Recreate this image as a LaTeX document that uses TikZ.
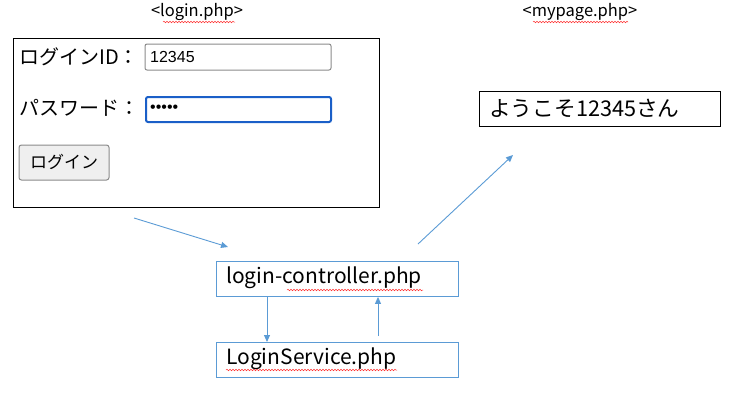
\documentclass[tikz,border=0pt]{standalone}
\usepackage{fontspec}
\setmainfont{Noto Sans CJK JP}
\newfontfamily\formfont{Liberation Sans}
\usetikzlibrary{arrows.meta,decorations.pathmorphing}
\definecolor{flowblue}{HTML}{5B9BD5}
\definecolor{focusblue}{HTML}{1A5FC8}
\definecolor{inputgray}{HTML}{8A8A8A}
\definecolor{btnfill}{HTML}{EFEFEF}
\tikzset{
  pagebox/.style={draw=black, line width=1pt},
  filebox/.style={draw=flowblue, line width=0.9pt},
  flow/.style={draw=flowblue, line width=0.9pt, -{Triangle[length=7pt,width=6pt]}},
  caption/.style={font=\fontsize{16.5}{18}\selectfont\addfontfeatures{Weight=Light}, inner sep=0pt},
  bigtext/.style={font=\fontsize{21}{23}\selectfont, inner sep=0pt, anchor=west},
  formlabel/.style={font=\fontsize{20}{22}\selectfont, inner sep=0pt, anchor=west},
  inputbox/.style={draw=inputgray, rounded corners=2pt, line width=1pt},
  squiggle/.style={draw=red!80, line width=0.5pt, decorate, decoration={snake, amplitude=0.8pt, segment length=3pt}}
}
\begin{document}
\begin{tikzpicture}[x=1pt,y=-1pt]
\useasboundingbox (0,0) rectangle (731,400);
% captions
\node[caption] (cap1) at (197,12) {<login.php>};
\node[caption] (cap2) at (580,12) {<mypage.php>};
\draw[squiggle] (163,22) -- (235,22);
\draw[squiggle] (533,22) -- (628,22);
% login form
\draw[pagebox] (13,38) rectangle (379,207);
\node[formlabel] (lid) at (19,57) {ログインID：};
\draw[inputbox] (145,44) rectangle (331,70);
\node[font=\formfont\fontsize{16}{18}\selectfont, anchor=west, inner sep=0pt] (idval) at (150,57) {12345};
\node[formlabel] (lpw) at (19,108) {パスワード：};
\draw[draw=focusblue, line width=2pt, rounded corners=2pt] (146,97) rectangle (331,122);
\node[font=\formfont\fontsize{16}{18}\selectfont, anchor=west, inner sep=0pt] (pwval) at (150,109) {•••••};
\draw[draw=inputgray, fill=btnfill, rounded corners=2.5pt, line width=1pt] (19,145) rectangle (109,180);
\node[font=\fontsize{17}{19}\selectfont, inner sep=0pt] (btn) at (64,162) {ログイン};
% mypage
\draw[pagebox] (479,91) rectangle (720,126);
\node[bigtext, font=\fontsize{21.7}{23}\selectfont] (welcome) at (489,108) {ようこそ12345さん};
% files
\node[filebox, minimum width=242pt, minimum height=35pt, anchor=north west, inner sep=0pt] (ctrl) at (216,261) {};
\node[bigtext] (ctrltxt) at (226,278) {login-controller.php};
\draw[squiggle] (287,290) -- (423,290);
\node[filebox, minimum width=242pt, minimum height=35pt, anchor=north west, inner sep=0pt] (svc) at (216,342) {};
\node[bigtext] (svctxt) at (226,359) {LoginService.php};
\draw[squiggle] (226,370) -- (397,370);
% flow arrows
\coordinate (a1s) at (134,218);
\coordinate (a1e) at (228,247);
\coordinate (a2s) at (418,244);
\coordinate (a2e) at (513,155);
\draw[flow] (a1s) -- (a1e);
\draw[flow] (a2s) -- (a2e);
\draw[flow] (ctrl.south west) ++(51,0) coordinate (d1s) -- (d1s |- svc.north);
\draw[flow] (svc.north west) ++(162,-6) coordinate (u1s) -- (u1s |- ctrl.south);
\end{tikzpicture}
\end{document}
